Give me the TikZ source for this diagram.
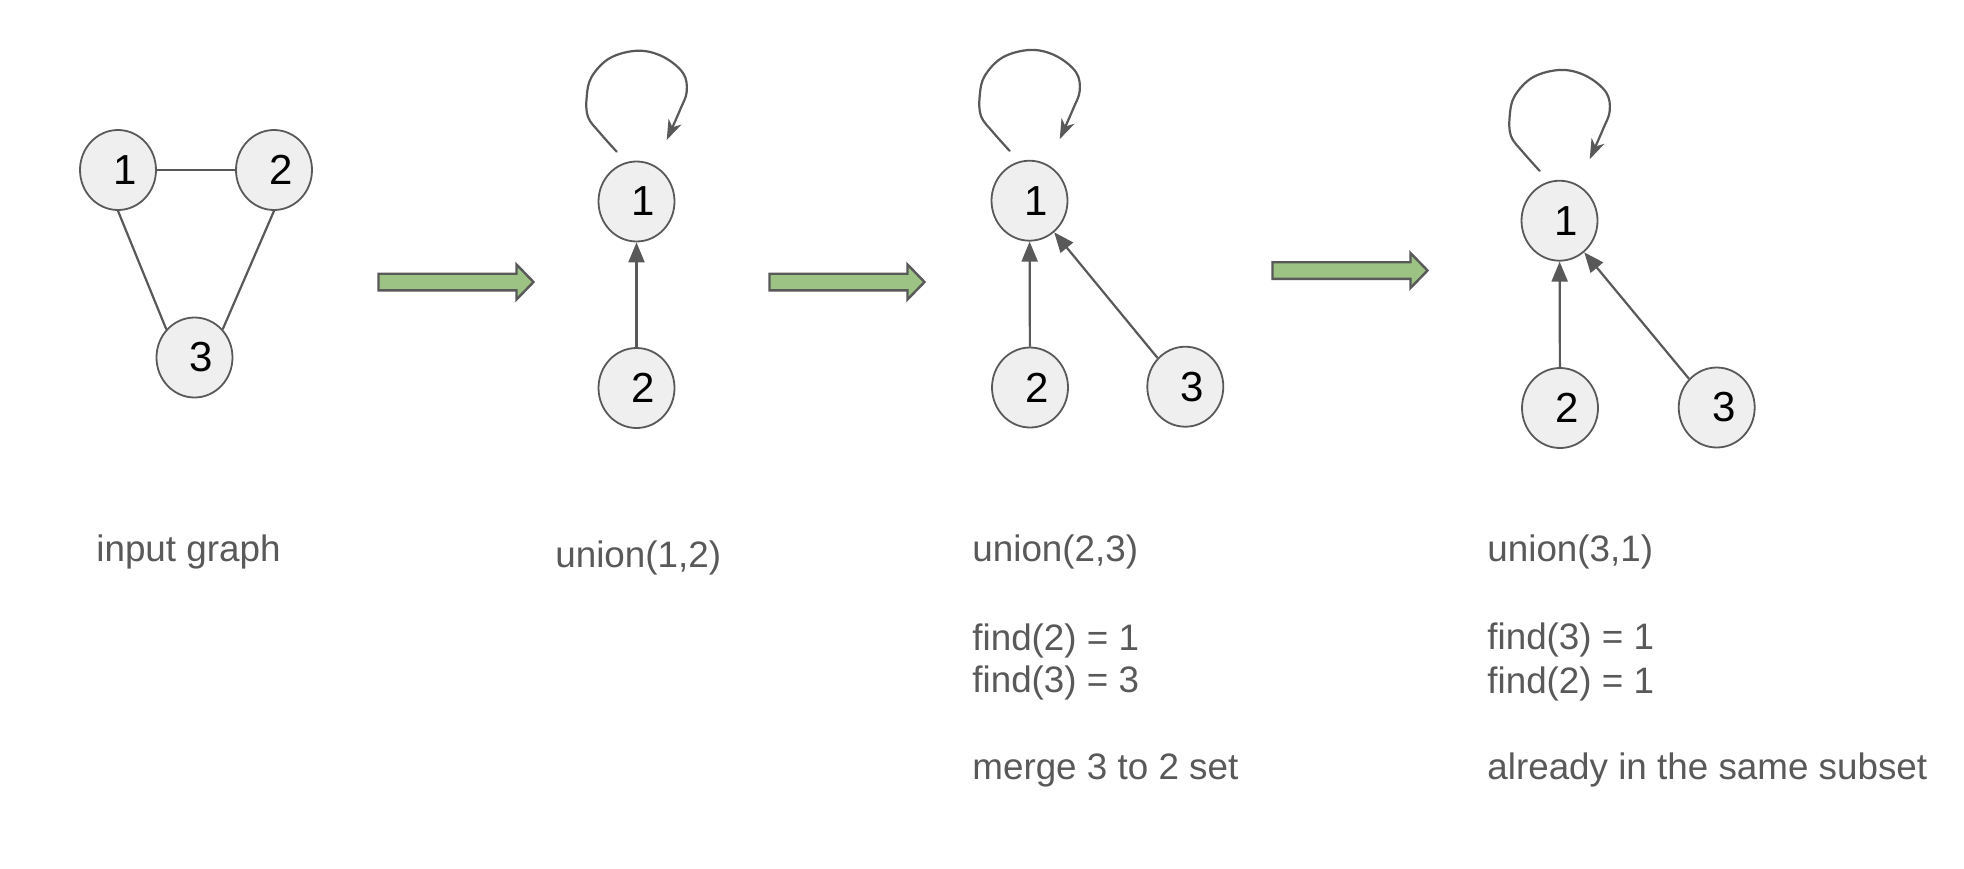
\documentclass[tikz,border=0pt]{standalone}
\usepackage{fontspec}
\setmainfont{Liberation Sans}
\usetikzlibrary{arrows.meta,shapes.geometric}
\definecolor{edgegray}{HTML}{595959}
\definecolor{nodefill}{HTML}{EFEFEF}
\definecolor{arrowgreen}{HTML}{9DC384}
\definecolor{textgray}{HTML}{595959}
\tikzset{
  vtx/.style={ellipse, draw=edgegray, line width=0.9pt, fill=nodefill,
    minimum width=38pt, minimum height=40pt, inner sep=0pt,
    font=\fontsize{21}{25}\selectfont, text=black},
  conn/.style={draw=edgegray, line width=1.1pt},
  toparent/.style={conn, -{Triangle[length=10pt,width=8pt]}},
  selfloop/.style={conn, line cap=round, -{Stealth[length=10pt,width=7pt,inset=3pt]}},
  lbl/.style={anchor=base west, inner sep=0pt, text=textgray,
    font=\fontsize{18.4}{22}\selectfont},
  stepbox/.style={fill=arrowgreen, draw=edgegray, line width=1.2pt, line join=miter},
  greenarrow/.pic={\path[stepbox] (0,-8.3) -- (138,-8.3) -- (138,-17.5) -- (155,0)
      -- (138,17.5) -- (138,8.3) -- (0,8.3) -- cycle;}
}
\newcommand\vlabel[1]{\kern7pt #1}
\begin{document}
\begin{tikzpicture}[x=0.5pt,y=-0.5pt]
\fill[white] (0,0) rectangle (1964,868);
\useasboundingbox (0,0) rectangle (1964,868);

% ---------- panel 1: input graph ----------
\node[vtx] (a1) at (118,170) {\vlabel{1}};
\node[vtx] (a2) at (274,170) {\vlabel{2}};
\node[vtx] (a3) at (194.5,357.5) {\vlabel{3}};
\draw[conn] (a1) -- (a2);
\draw[conn] (a1.270) -- (a3.135);
\draw[conn] (a2.270) -- (a3.45);
\node[lbl] (t1) at (96,561) {input graph};

\pic at (378.5,282) {greenarrow};

% ---------- panel 2: union(1,2) ----------
\node[vtx] (b1) at (636.5,201.5) {\vlabel{1}};
\node[vtx] (b2) at (636.5,388) {\vlabel{2}};
\draw[toparent] (b2) -- (b1);
\draw[selfloop, shift={(b1)}] plot[smooth, tension=0.6] coordinates {(-19.8,-49.8) (-36.5,-68.5) (-48.5,-84.5) (-49.8,-104.8) (-44.8,-124.8) (-26.5,-143.5) (1.5,-150.8) (26.5,-144.8) (46.5,-128.5) (50.2,-109.8) (43.5,-91.5) (30.2,-61.5)};
\node[lbl] (t2) at (555,567) {union(1,2)};

\pic at (769.5,282) {greenarrow};

% ---------- panel 3: union(2,3) ----------
\node[vtx] (c1) at (1029.5,200.7) {\vlabel{1}};
\node[vtx] (c2) at (1030,387.5) {\vlabel{2}};
\node[vtx] (c3) at (1185.3,386.7) {\vlabel{3}};
\draw[toparent] (c2) -- (c1);
\draw[toparent] (c3.134) -- (c1.-52);
\draw[selfloop, shift={(c1)}] plot[smooth, tension=0.6] coordinates {(-19.8,-49.8) (-36.5,-68.5) (-48.5,-84.5) (-49.8,-104.8) (-44.8,-124.8) (-26.5,-143.5) (1.5,-150.8) (26.5,-144.8) (46.5,-128.5) (50.2,-109.8) (43.5,-91.5) (30.2,-61.5)};
\node[lbl] (t3a) at (972,561) {union(2,3)};
\node[lbl] (t3b) at (972,650) {find(2) = 1};
\node[lbl] (t3c) at (972,692) {find(3) = 3};
\node[lbl] (t3d) at (972,779) {merge 3 to 2 set};

\pic at (1272.5,270.5) {greenarrow};

% ---------- panel 4: union(3,1) ----------
\node[vtx] (d1) at (1559.5,220.7) {\vlabel{1}};
\node[vtx] (d2) at (1560,408) {\vlabel{2}};
\node[vtx] (d3) at (1716.7,407.5) {\vlabel{3}};
\draw[toparent] (d2) -- (d1);
\draw[toparent] (d3.134) -- (d1.-52);
\draw[selfloop, shift={(d1)}] plot[smooth, tension=0.6] coordinates {(-19.8,-49.8) (-36.5,-68.5) (-48.5,-84.5) (-49.8,-104.8) (-44.8,-124.8) (-26.5,-143.5) (1.5,-150.8) (26.5,-144.8) (46.5,-128.5) (50.2,-109.8) (43.5,-91.5) (30.2,-61.5)};
\node[lbl] (t4a) at (1487,561) {union(3,1)};
\node[lbl] (t4b) at (1487,649) {find(3) = 1};
\node[lbl] (t4c) at (1487,693) {find(2) = 1};
\node[lbl] (t4d) at (1487,779) {already in the same subset};
\end{tikzpicture}
\end{document}
